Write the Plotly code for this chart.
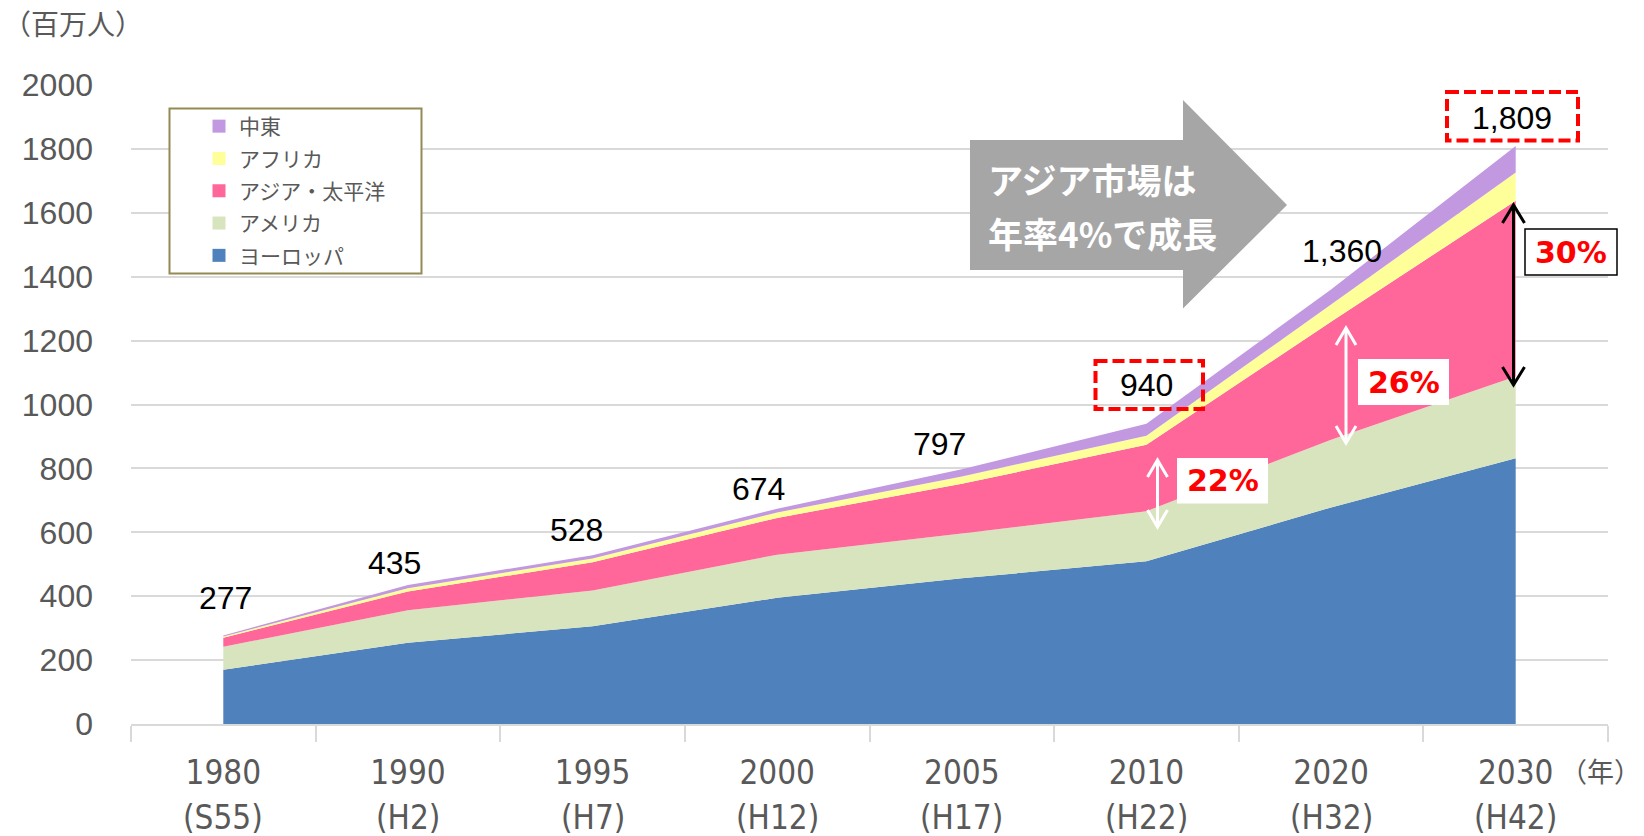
import plotly.graph_objects as go

# ---------------- data ----------------
years = ["1980", "1990", "1995", "2000", "2005", "2010", "2020", "2030"]
eras = ["(S55)", "(H2)", "(H7)", "(H12)", "(H17)", "(H22)", "(H32)", "(H42)"]
europe = [170, 254, 306, 395, 456, 509, 678, 832]
americas = [72, 102, 112, 135, 140, 157, 212, 256]
asia_pacific = [28, 59, 88, 115, 156, 208, 369, 550]
africa = [4, 10, 12, 17, 23, 28, 54, 88]
middle_east = [3, 10, 10, 12, 22, 38, 47, 83]
totals = [277, 435, 528, 674, 797, 940, 1360, 1809]

series_names = ["ヨーロッパ", "アメリカ", "アジア・太平洋", "アフリカ", "中東"]
series_values = [europe, americas, asia_pacific, africa, middle_east]
series_colors = ["#4f81bd", "#d7e4bd", "#ff6699", "#ffff99", "#c298e0"]

y_ticks = list(range(0, 2001, 200))

# ---------------- layout geometry ----------------
W, H = 1644, 836
L, R, T, B = 131, 36, 85, 112
PW, PH = W - L - R, H - T - B

NARROW = "Liberation Sans Narrow, DejaVu Sans Condensed, Arial Narrow, sans-serif"


def px(x):
    return (x - L) / PW


def py(y):
    return (H - B - y) / PH


# label offsets (pixels) for the total labels
label_dx = [2, -13, -16, -19, -22, 0, 11, -4]
label_dy = [38, 22, 25, 20, 25, 39, 38, 28]

fig = go.Figure()

for name, vals, col in zip(series_names, series_values, series_colors):
    fig.add_trace(go.Scatter(
        x=years, y=vals, name=name, mode="none", stackgroup="one",
        fillcolor=col, showlegend=False, hoverinfo="x+y+name",
    ))

# legend entries (square markers), top to bottom
for name, col in reversed(list(zip(series_names, series_colors))):
    fig.add_trace(go.Scatter(
        x=[None], y=[None], name=name, mode="markers", legendgroup=name,
        marker=dict(symbol="square", size=13, color=col),
        showlegend=True,
    ))

shapes = []
annotations = []

# legend frame
shapes.append(dict(type="rect", xref="paper", yref="paper", layer="above",
                   x0=px(169.5), x1=px(421.5), y0=py(108.5), y1=py(273.5),
                   line=dict(color="#948a54", width=2), fillcolor="white"))

# big grey block arrow
pts = [(970, 140), (1183, 140), (1183, 100), (1287, 205), (1183, 308.5), (1183, 270), (970, 270)]
path = "M " + " L ".join(f"{px(a):.5f},{py(b):.5f}" for a, b in pts) + " Z"
shapes.append(dict(type="path", xref="paper", yref="paper", layer="above", path=path,
                   fillcolor="#a6a6a6", line=dict(width=0)))
annotations.append(dict(xref="paper", yref="paper", x=px(986), y=py(178.5), xanchor="left", yanchor="middle",
                        text="<b>アジア市場は</b>", showarrow=False,
                        font=dict(family="Noto Sans CJK JP", size=35, color="white")))
annotations.append(dict(xref="paper", yref="paper", x=px(986), y=py(232), xanchor="left", yanchor="middle",
                        text="<b>年率4%で成長</b>", showarrow=False,
                        font=dict(family="Noto Sans CJK JP", size=35, color="white")))


def double_arrow(x, y1, y2, color, w=3, hw=10, hh=17):
    shapes.append(dict(type="line", xref="paper", yref="paper", layer="above",
                       x0=px(x), x1=px(x), y0=py(y1 + 1), y1=py(y2 - 1),
                       line=dict(color=color, width=w)))
    for tip, sgn in ((y1, 1), (y2, -1)):
        p = (f"M {px(x - hw):.5f},{py(tip + sgn * hh):.5f} L {px(x):.5f},{py(tip):.5f} "
             f"L {px(x + hw):.5f},{py(tip + sgn * hh):.5f}")
        shapes.append(dict(type="path", xref="paper", yref="paper", layer="above", path=p,
                           line=dict(color=color, width=w)))


def pct_box(x0, y0, x1, y1, text, border=None):
    shapes.append(dict(type="rect", xref="paper", yref="paper", layer="above",
                       x0=px(x0), x1=px(x1), y0=py(y0), y1=py(y1), fillcolor="white",
                       line=dict(color=border or "white", width=1.5 if border else 0)))
    annotations.append(dict(xref="paper", yref="paper", x=px((x0 + x1) / 2), y=py((y0 + y1) / 2),
                            xanchor="center", yanchor="middle", text=f"<b>{text}</b>", showarrow=False,
                            font=dict(family="DejaVu Sans", size=30, color="#ff0000")))


double_arrow(1157.5, 460, 527, "white")
pct_box(1177, 458, 1268, 503.5, "22%")
double_arrow(1346, 328, 443, "white")
pct_box(1358, 359, 1449, 405, "26%")
double_arrow(1513.5, 205, 385, "black", w=3, hw=11, hh=18)
pct_box(1525, 229, 1617, 275, "30%", border="black")

# dashed red boxes
for (x0, y0, x1, y1) in [(1095.5, 361, 1203, 409), (1447, 92, 1578, 140.5)]:
    shapes.append(dict(type="rect", xref="paper", yref="paper", layer="above",
                       x0=px(x0), x1=px(x1), y0=py(y0), y1=py(y1),
                       line=dict(color="#ff0000", width=4, dash="12px,5px")))

# total labels
for i, tot in enumerate(totals):
    annotations.append(dict(xref="x", yref="y", x=i, y=tot, text=f"{tot:,}", showarrow=False,
                            xanchor="center", yanchor="middle", xshift=label_dx[i], yshift=label_dy[i],
                            font=dict(family="Liberation Sans, Arial", size=32, color="black")))

# era labels (second line of category axis)
for i, era in enumerate(eras):
    annotations.append(dict(xref="x", yref="paper", x=i, y=py(817), text=era, showarrow=False,
                            xanchor="center", yanchor="middle",
                            font=dict(family=NARROW, size=33, color="#595959")))

# unit labels
annotations.append(dict(xref="paper", yref="paper", x=px(73), y=py(23), text="（百万人）", showarrow=False,
                        xanchor="center", yanchor="middle",
                        font=dict(family="Noto Sans CJK JP", size=28, color="#595959")))
annotations.append(dict(xref="paper", yref="paper", x=px(1643), y=py(770), text="（年）", showarrow=False,
                        xanchor="right", yanchor="middle",
                        font=dict(family="Noto Sans CJK JP", size=27, color="#595959")))

fig.update_layout(
    width=W, height=H,
    margin=dict(l=L, r=R, t=T, b=B, pad=0),
    paper_bgcolor="white", plot_bgcolor="white",
    showlegend=True,
    legend=dict(x=px(199), y=py(106), xanchor="left", yanchor="top", traceorder="grouped",
                tracegroupgap=2,
                bgcolor="rgba(0,0,0,0)", borderwidth=0, itemwidth=30,
                font=dict(family="Noto Sans CJK JP", size=21, color="#595959")),
    xaxis=dict(type="category", categoryorder="array", categoryarray=years,
               tickson="boundaries", ticks="outside", ticklen=16, tickwidth=1.5, tickcolor="#d9d9d9",
               showline=True, linecolor="#d9d9d9", linewidth=1.5, showgrid=False,
               ticklabelstandoff=19,
               tickfont=dict(family=NARROW, size=33, color="#595959"),
               range=[-0.5, 7.5], fixedrange=True),
    yaxis=dict(range=[0, 2000], tickvals=y_ticks, ticks="", showgrid=True, gridcolor="#d9d9d9", gridwidth=1.5,
               zeroline=False, showline=False, ticklabelstandoff=37,
               tickfont=dict(family="Liberation Sans, Arial", size=32, color="#595959"), fixedrange=True),
    shapes=shapes,
    annotations=annotations,
)

fig.write_html("out.html", config={"displayModeBar": False},
               post_script="document.body.style.margin='0';document.body.style.overflow='hidden';")
